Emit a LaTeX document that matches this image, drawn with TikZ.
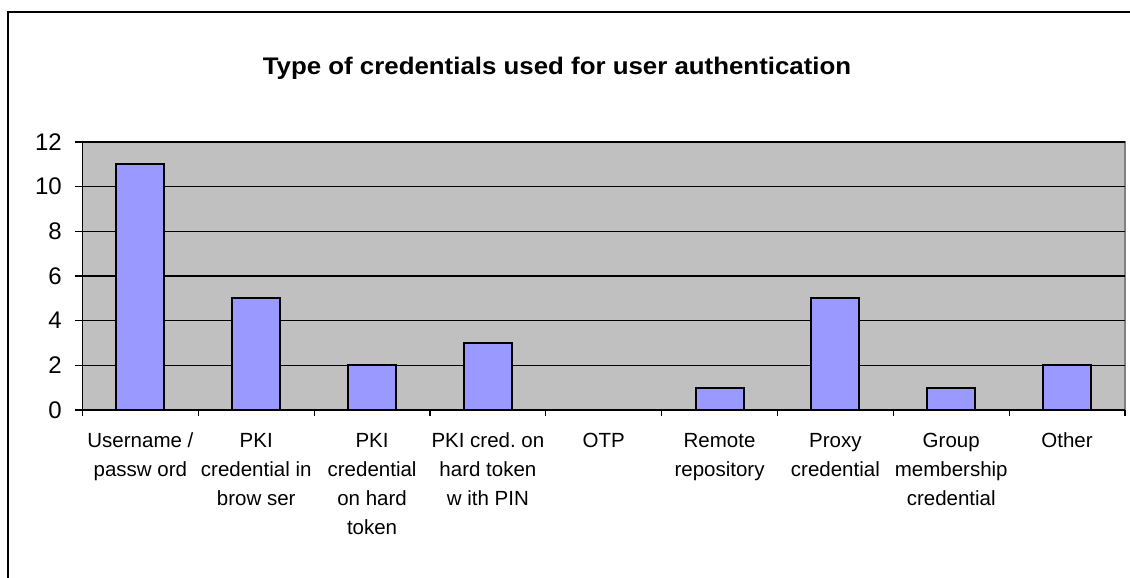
\documentclass[tikz,border=0pt]{standalone}
\usepackage{fontspec}
\usepackage{graphicx}
\setmainfont{Liberation Sans}
\frenchspacing
\definecolor{plotbg}{HTML}{C0C0C0}
\definecolor{barfill}{HTML}{9999FF}
\definecolor{plotedge}{HTML}{808080}
\tikzset{
  barbox/.style={draw=black, line width=2pt, fill=barfill},
  gridln/.style={draw=black, line width=1.2pt},
  axisln/.style={draw=black, line width=1.2pt},
  catlabel/.style={anchor=base, align=center, inner sep=0pt, font=\fontsize{20.5}{29}\selectfont},
  ylabel/.style={anchor=base east, inner sep=0pt, font=\fontsize{24}{28}\selectfont},
}
\begin{document}
\begin{tikzpicture}[x=1pt,y=-1pt]
\useasboundingbox (0,0) rectangle (1130,578);
\fill[white] (0,0) rectangle (1130,578);
% outer frame (extends past the page on right and bottom)
\draw[black, line width=1.2pt] (8,590) -- (8,12) -- (1145,12);
% title
\node[inner sep=0pt, anchor=base, font=\fontsize{24}{28}\selectfont\bfseries] (title) at (557,74.3) {\scalebox{1.077}[1]{Type of credentials used for user authentication}};
% plot area
\fill[plotbg] (82.5,142) rectangle (1125,410);
\draw[plotedge, line width=1.8pt] (82.5,142) -- (1125,142) -- (1125,410);
% gridlines
\foreach \v in {2,4,...,12} {
  \draw[gridln] (74.5,{410-22.333*\v}) -- (1125,{410-22.333*\v});
}
% y labels
\foreach \v in {0,2,...,12} {
  \node[ylabel] (y\v) at (62,{410-22.333*\v+8}) {\v};
}
% bars
\foreach \i/\val in {1/11,2/5,3/2,4/3,6/1,7/5,8/1,9/2} {
  \pgfmathsetmacro{\cx}{82.5+(\i-0.5)*115.83}
  \draw[barbox] ({\cx-24},410) rectangle ({\cx+24},{410-22.333*\val});
}
% axes
\draw[axisln] (82.5,142) -- (82.5,410);
\draw[axisln] (74.5,410) -- (1125,410);
\foreach \i in {0,...,9} {
  \draw[axisln] ({82.5+\i*115.83},410) -- ({82.5+\i*115.83},416);
}
% category labels (base anchor = last line's baseline)
\node[catlabel] (c1) at ({82.5+0.5*115.83},476.7) {Username /\\passw ord};
\node[catlabel] (c2) at ({82.5+1.5*115.83},505.7) {PKI\\credential in\\brow ser};
\node[catlabel] (c3) at ({82.5+2.5*115.83},534.7) {PKI\\credential\\on hard\\token};
\node[catlabel] (c4) at ({82.5+3.5*115.83},505.7) {PKI cred. on\\hard token\\w ith PIN};
\node[catlabel] (c5) at ({82.5+4.5*115.83},447.7) {OTP};
\node[catlabel] (c6) at ({82.5+5.5*115.83},476.7) {Remote\\repository};
\node[catlabel] (c7) at ({82.5+6.5*115.83},476.7) {Proxy\\credential};
\node[catlabel] (c8) at ({82.5+7.5*115.83},505.7) {Group\\membership\\credential};
\node[catlabel] (c9) at ({82.5+8.5*115.83},447.7) {Other};
\end{tikzpicture}
\end{document}
